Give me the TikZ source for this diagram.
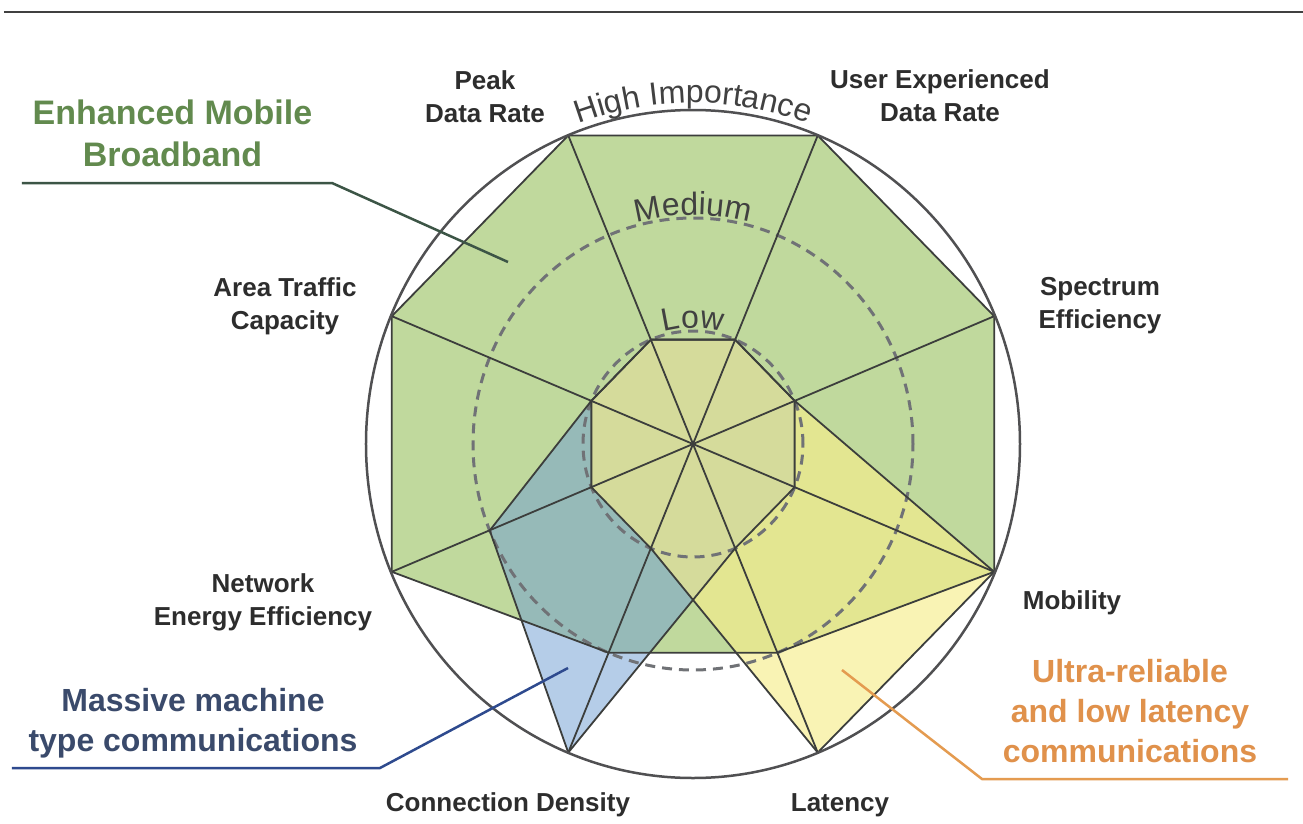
\documentclass[tikz,border=0pt]{standalone}
\usepackage{fontspec}
\setmainfont{Liberation Sans}
\usetikzlibrary{decorations.text}
\definecolor{gfill}{RGB}{192,217,157}
\definecolor{yfill}{RGB}{247,237,140}
\definecolor{bfill}{RGB}{109,157,211}
\definecolor{edgec}{RGB}{60,62,60}
\definecolor{dashc}{RGB}{112,114,118}
\definecolor{ringc}{RGB}{80,80,82}
\definecolor{axlab}{RGB}{45,45,45}
\definecolor{embbc}{RGB}{98,138,78}
\definecolor{mmtcc}{RGB}{58,74,107}
\definecolor{urllcc}{RGB}{224,145,75}
\definecolor{embbl}{RGB}{60,85,70}
\definecolor{mmtcl}{RGB}{46,74,142}
\definecolor{urllcl}{RGB}{228,155,80}
\definecolor{arctext}{RGB}{65,65,65}
\definecolor{rulec}{RGB}{64,64,64}
\newcommand\axfont{\fontsize{26}{33}\selectfont\bfseries}
\newcommand\catfont{\fontsize{32}{40}\selectfont\bfseries}
\newcommand\bigcatfont{\fontsize{34}{41.5}\selectfont\bfseries}
\newcommand\arcfnt{\fontsize{32}{38}\selectfont}
\tikzset{
  axislabel/.style={font=\axfont, text=axlab, align=center, inner sep=0pt},
  catlabel/.style={font=\catfont, align=center, inner sep=0pt},
  polyline/.style={draw=edgec, line width=1.8pt, line join=round},
  axisline/.style={draw=edgec, line width=1.8pt},
  levelring/.style={draw=dashc, line width=3pt, dash pattern=on 10pt off 7pt},
  outerring/.style={draw=ringc, line width=2.5pt},
  leader/.style={line width=2.5pt, line join=round},
  arclabel/.style={decorate, decoration={text along path, text align=center, text color=arctext}}
}
\begin{document}
\begin{tikzpicture}[x=1pt,y=1pt]
\useasboundingbox (-693,-379) rectangle (610,444);
\fill[white] (-693,-379) rectangle (610,444);
% top rule
\coordinate (R1) at (-689,432);
\coordinate (R2) at (610,432);
\draw[rulec, line width=2.5pt] (R1) -- (R2);
% axis vertices
\coordinate (O) at (0,0);
\foreach \n/\a in {P/112.5,U/67.5,S/22.5,Mo/-22.5,La/-67.5,C/-112.5,N/-157.5,A/157.5} {
  \coordinate (\n-L) at (\a:110 and 113);
  \coordinate (\n-M) at (\a:220 and 226);
  \coordinate (\n-H) at (\a:326 and 334);
}
% fills
\fill[gfill] (P-H) -- (U-H) -- (S-H) -- (Mo-H) -- (La-M) -- (C-M) -- (N-H) -- (A-H) -- cycle;
\fill[bfill, fill opacity=0.5] (P-L) -- (U-L) -- (S-L) -- (Mo-L) -- (La-L) -- (C-H) -- (N-M) -- (A-L) -- cycle;
\fill[yfill, fill opacity=0.65] (P-L) -- (U-L) -- (S-L) -- (Mo-H) -- (La-H) -- (C-L) -- (N-L) -- (A-L) -- cycle;
% dashed level rings
\draw[levelring] (O) ellipse [x radius=220pt, y radius=226pt];
\draw[levelring] (O) ellipse [x radius=110pt, y radius=113pt];
% polygon outlines
\draw[polyline] (P-H) -- (U-H) -- (S-H) -- (Mo-H) -- (La-M) -- (C-M) -- (N-H) -- (A-H) -- cycle;
\draw[polyline] (P-L) -- (U-L) -- (S-L) -- (Mo-L) -- (La-L) -- (C-H) -- (N-M) -- (A-L) -- cycle;
\draw[polyline] (P-L) -- (U-L) -- (S-L) -- (Mo-H) -- (La-H) -- (C-L) -- (N-L) -- (A-L) -- cycle;
% axes
\foreach \n in {P,U,S,Mo,La,C,N,A} { \draw[axisline] (O) -- (\n-H); }
% outer ring
\draw[outerring] (O) ellipse [x radius=327pt, y radius=334pt];
% arc labels
\path[arclabel, decoration={text={|\arcfnt|High Importance}}] (150:333 and 341) arc [start angle=150, end angle=30, x radius=333pt, y radius=341pt];
\path[arclabel, decoration={text={|\arcfnt|Medium}}] (150:223 and 229) arc [start angle=150, end angle=30, x radius=223pt, y radius=229pt];
\path[arclabel, decoration={text={|\arcfnt|Low}}] (150:113 and 116) arc [start angle=150, end angle=30, x radius=113pt, y radius=116pt];
% axis labels
\node[axislabel] (lpeak) at (-208,347) {Peak\\Data Rate};
\node[axislabel] (luser) at (247,348) {User Experienced\\Data Rate};
\node[axislabel] (lspec) at (407,138) {Spectrum\\Efficiency};
\node[axislabel] (larea) at (-408,138) {Area Traffic\\Capacity};
\node[axislabel] (lnet) at (-430,-158) {Network\\Energy Efficiency};
\node[axislabel] (lmob) at (379,-159) {Mobility};
\node[axislabel] (llat) at (147,-361) {Latency};
\node[axislabel] (lconn) at (-185,-361) {Connection Density};
% category labels
\node[catlabel, font=\bigcatfont, text=embbc] (embb) at (-520.5,310.5) {Enhanced Mobile\\Broadband};
\node[catlabel, text=mmtcc] (mmtc) at (-500,-279) {Massive machine\\type communications};
\node[catlabel, text=urllcc] (urllc) at (437,-267) {Ultra-reliable\\and low latency\\communications};
% leaders
\coordinate (e1) at (-671,261);
\coordinate (e2) at (-361,261);
\coordinate (e3) at (-185,182);
\draw[leader, embbl] (e1) -- (e2) -- (e3);
\coordinate (m1) at (-681,-324);
\coordinate (m2) at (-313,-324);
\coordinate (m3) at (-125,-224);
\draw[leader, mmtcl] (m1) -- (m2) -- (m3);
\coordinate (u1) at (149,-226);
\coordinate (u2) at (289,-335);
\coordinate (u3) at (595,-335);
\draw[leader, urllcl] (u1) -- (u2) -- (u3);
\end{tikzpicture}
\end{document}
